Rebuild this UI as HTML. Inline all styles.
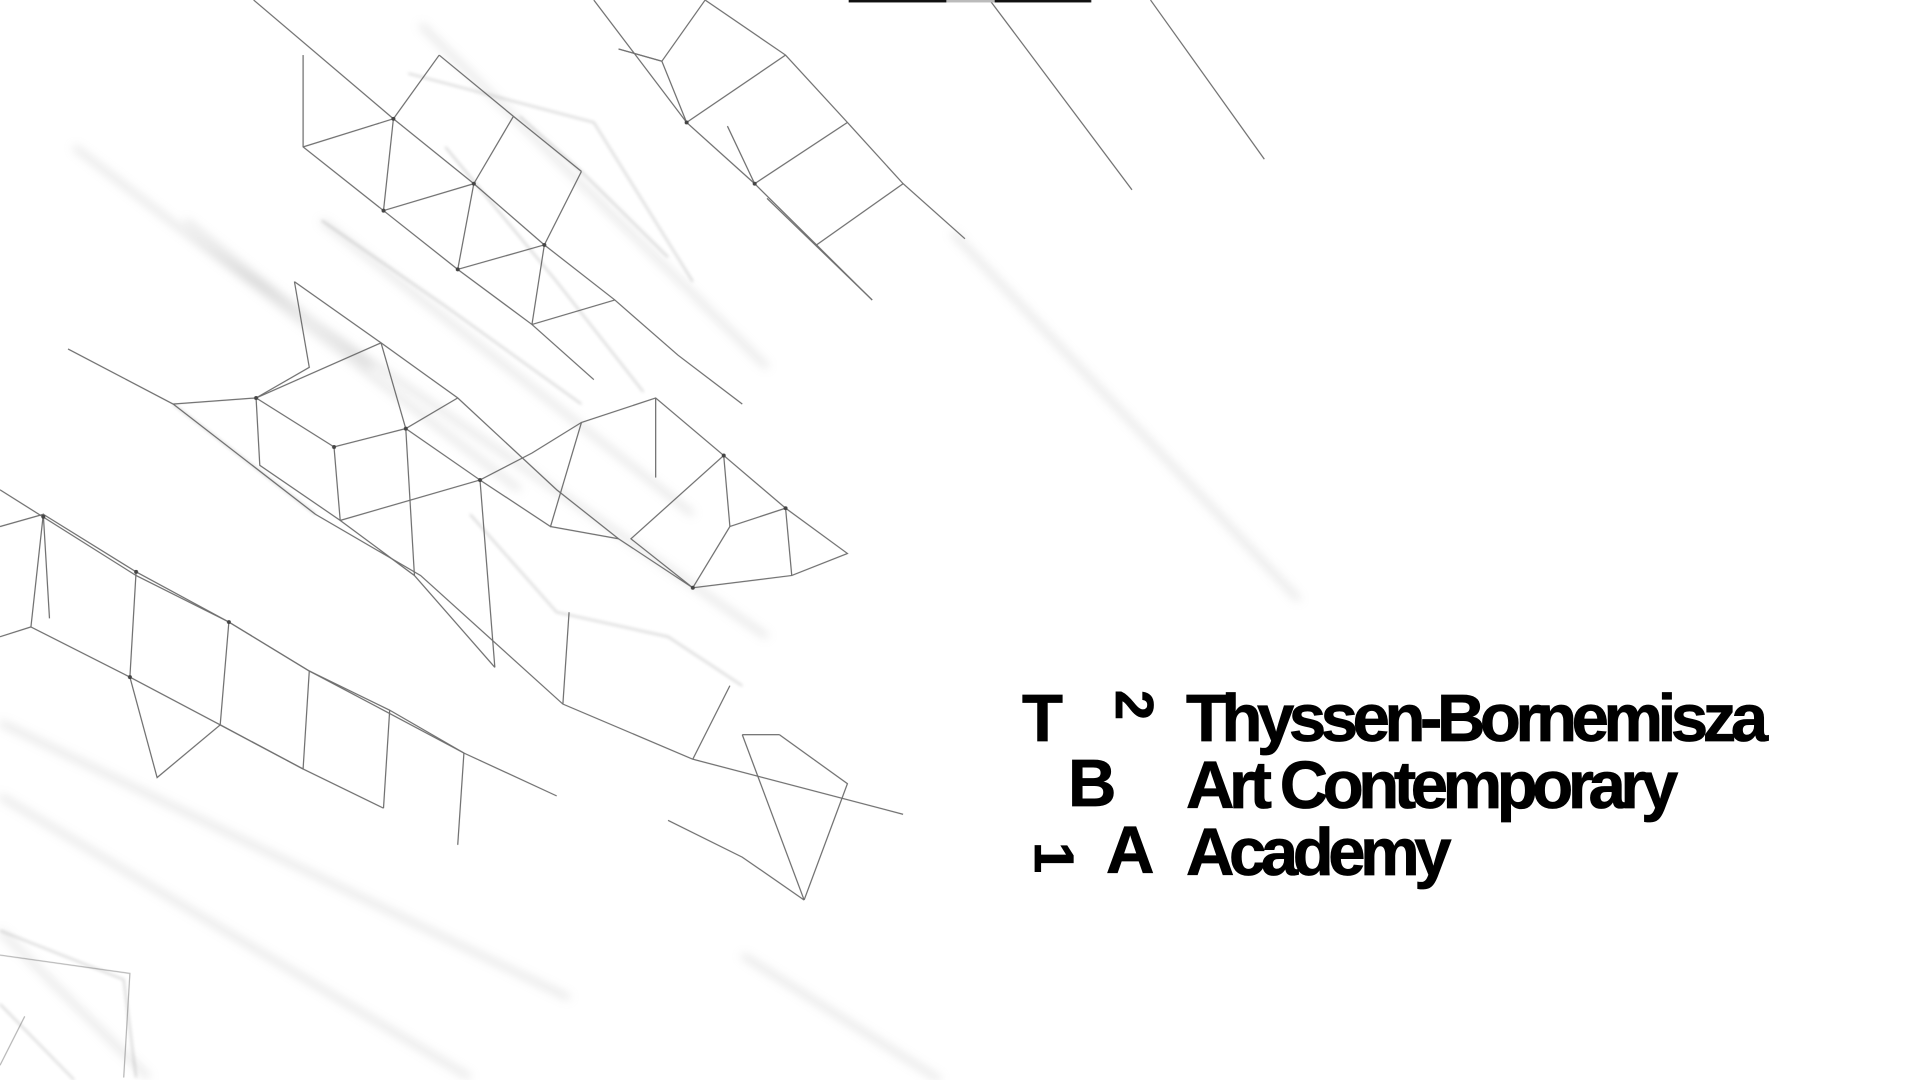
<!DOCTYPE html>
<html><head><meta charset="utf-8"><style>
html,body{margin:0;padding:0;background:#fff;}
#stage{position:relative;width:1920px;height:1080px;overflow:hidden;background:#fff;}
svg{position:absolute;left:0;top:0;}
.t{position:absolute;font-family:"Liberation Sans",sans-serif;font-weight:bold;font-size:67px;line-height:1;color:#000;white-space:nowrap;letter-spacing:-5.4px;-webkit-text-stroke:0.8px #000;}
.g{position:absolute;font-family:"Liberation Sans",sans-serif;font-weight:bold;font-size:67px;line-height:1;color:#000;-webkit-text-stroke:0.8px #000;}
</style></head><body>
<div id="stage">
<svg width="1920" height="1080" viewBox="0 0 1552 882" preserveAspectRatio="none">
<defs><filter id="bl"><feGaussianBlur stdDeviation="4"/></filter><filter id="bl2"><feGaussianBlur stdDeviation="1.2"/></filter></defs>
<g filter="url(#bl)" stroke="#bbb" stroke-width="3" fill="none" opacity="0.6">
<path d="M60,120 L420,400 M150,190 L620,520 M0,590 L460,815 M0,650 L380,880 M150,180 L300,300 M260,180 L560,420 M340,20 L620,300 M0,760 L120,880 M600,780 L760,882 M770,190 L1050,490"/>
</g>
<g filter="url(#bl2)" stroke="#888" stroke-width="1" fill="none" opacity="0.55">
<path d="M330,60 L480,100 L560,230 M260,180 L360,250 L470,330 M360,120 L450,230 L520,320 M420,95 L470,140 L540,210 M140,330 L255,420 M380,420 L450,500 L540,520 L600,560 M0,760 L100,800 L110,880 M0,820 L60,882"/>
</g>
<g stroke="#555" stroke-width="1" fill="none" opacity="0.85">
<path d="M205,0 L318,97 L383,150 L440,200 L497,245 L548,290 L600,330"/>
<path d="M245,45 L245,120 L310,172 L370,220 L430,265 L480,310"/>
<path d="M245,120 L318,97 M310,172 L383,150 M370,220 L440,200 M318,97 L310,172 M383,150 L370,220 M430,265 L497,245 M440,200 L430,265"/>
<path d="M355,45 L318,97 M355,45 L415,95 L470,140 M415,95 L383,150 M470,140 L440,200"/>
<path d="M480,0 L555,100 L610,150 L660,200 L705,245"/>
<path d="M500,40 L535,50 L555,100 M570,0 L635,45 L685,100 L730,150 L780,195"/>
<path d="M555,100 L635,45 M610,150 L685,100 M660,200 L730,150 M535,50 L570,0 M500,40 L535,50 M588,103 L610,150 M620,162 L705,245"/>
<path d="M800,0 L915,155 M930,0 L1022,130"/>
<path d="M238,230 L308,280 L370,325 L450,400 L500,440 L560,480"/>
<path d="M207,325 L270,365 L328,350 L370,325 M207,325 L210,380 L275,425 L335,470 L400,545 M270,365 L275,425 M328,350 L335,470 M308,280 L328,350 M308,280 L207,325"/>
<path d="M328,350 L388,392 L430,370 L470,345 L530,325 L585,372 L635,415 L685,452 L640,470 L560,480 L510,440 L585,372"/>
<path d="M388,392 L400,545 M388,392 L445,430 L470,345 M445,430 L500,440 M530,325 L530,390 M585,372 L590,430 L560,480 M635,415 L640,470 M590,430 L635,415 M275,425 L388,392 M140,330 L207,325 M238,230 L250,300 L207,325"/>
<path d="M55,285 L140,330 L255,420 L340,470 L455,575 L560,620 L730,665"/>
<path d="M455,575 L460,500 M560,620 L590,560 M600,600 L650,735 M630,600 L685,640 L650,735 M600,600 L630,600 M540,670 L600,700 L650,735"/>
<path d="M0,400 L110,470 L185,508 L250,548 L310,580 L375,615 L450,650"/>
<path d="M0,430 L35,420 L25,512 L105,553 L178,592 L245,628 L310,660"/>
<path d="M35,420 L110,467 L105,553 M110,467 L185,508 L178,592 L127,635 L105,553 M185,508 L250,548 L245,628 M250,548 L315,580 L310,660 M25,512 L0,520 M35,420 L40,505 M105,553 L127,635 M178,592 L245,628 M315,580 L375,615 L370,690"/>
<path d="M0,780 L105,795 L100,880 M20,830 L0,870" opacity="0.5"/>
</g>
<g fill="#444">
<circle cx="318" cy="97" r="1.6"/><circle cx="383" cy="150" r="1.6"/><circle cx="440" cy="200" r="1.6"/><circle cx="310" cy="172" r="1.6"/><circle cx="370" cy="220" r="1.6"/><circle cx="555" cy="100" r="1.6"/><circle cx="610" cy="150" r="1.6"/><circle cx="328" cy="350" r="1.6"/><circle cx="388" cy="392" r="1.6"/><circle cx="585" cy="372" r="1.6"/><circle cx="635" cy="415" r="1.6"/><circle cx="560" cy="480" r="1.6"/><circle cx="105" cy="553" r="1.6"/><circle cx="185" cy="508" r="1.6"/><circle cx="110" cy="467" r="1.6"/><circle cx="35" cy="422" r="1.6"/><circle cx="270" cy="365" r="1.6"/><circle cx="207" cy="325" r="1.6"/>
</g>
<rect x="686" y="0" width="79" height="2" fill="#111"/>
<rect x="765" y="0" width="39" height="2" fill="#bbb"/>
<rect x="804" y="0" width="78" height="2" fill="#111"/>
</svg>
<div>
<div class="g" style="left:1022px;top:685px;">T</div>
<div class="g" style="left:1111px;top:680px;transform:rotate(90deg);transform-origin:20px 30px;font-size:54px;">2</div>
<div class="g" style="left:1068px;top:750px;">B</div>
<div class="g" style="left:1032px;top:832px;transform:rotate(90deg);transform-origin:20px 30px;font-size:56px;">1</div>
<div class="g" style="left:1106px;top:817px;">A</div>
<div class="t" style="left:1186px;top:685px;">Thyssen-Bornemisza</div>
<div class="t" style="left:1186px;top:752px;">Art Contemporary</div>
<div class="t" style="left:1186px;top:819px;">Academy</div>
</div>
</div>
</body></html>
